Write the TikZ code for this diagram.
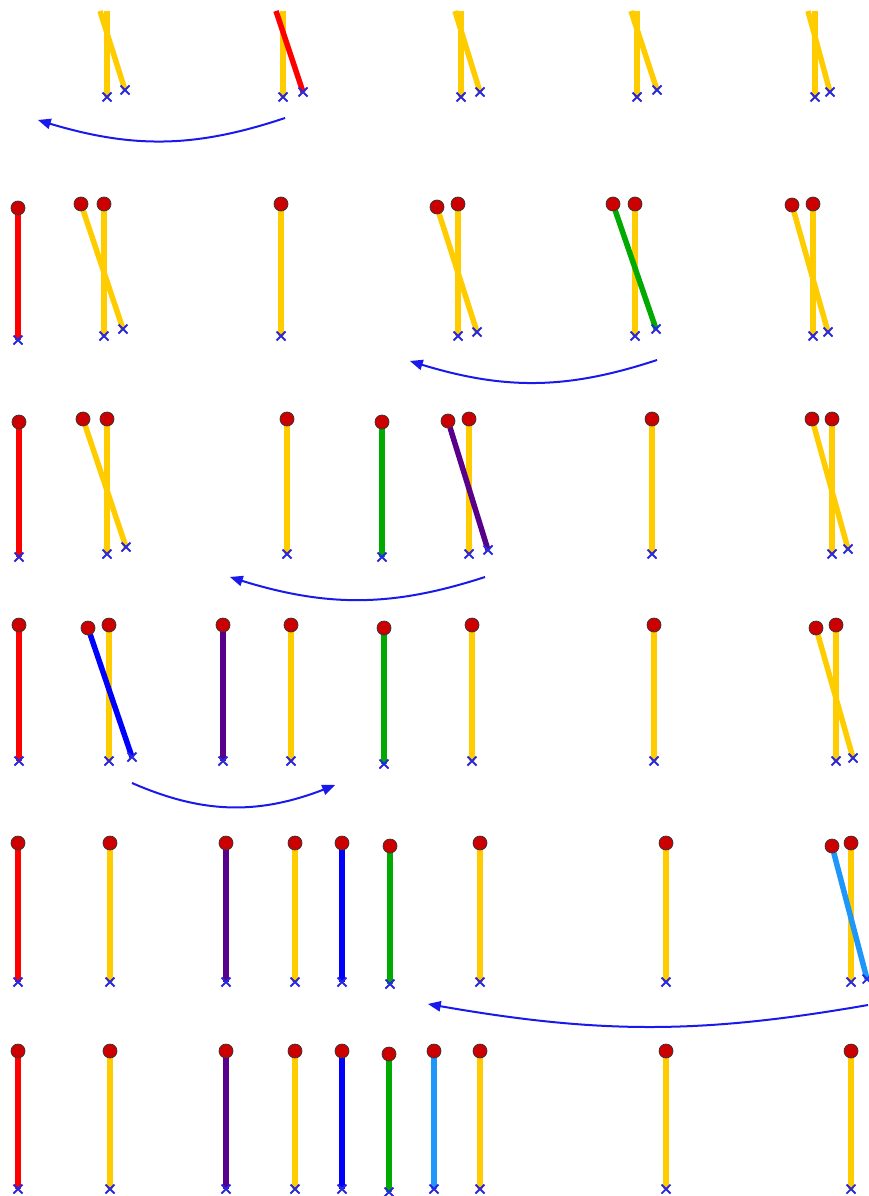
\documentclass[tikz,border=0pt]{standalone}
\usepackage[svgnames]{xcolor}
\usepackage{tikz}
\usetikzlibrary{shapes,arrows,backgrounds}
\definecolor{stYellow}{RGB}{255,204,0}
\definecolor{stRed}{RGB}{255,0,0}
\definecolor{stGreen}{RGB}{0,170,0}
\definecolor{stPurple}{RGB}{88,0,140}
\definecolor{stBlue}{RGB}{0,0,255}
\definecolor{stSky}{RGB}{30,150,250}
\definecolor{hdRed}{RGB}{204,0,0}
\definecolor{mkBlue}{RGB}{40,40,220}
\definecolor{arBlue}{RGB}{25,25,235}

\begin{document}
\begin{tikzpicture}[x=1pt, y=-1pt]%
  \tikzset{normal arrow/.style={draw,-triangle 45,line width=2pt,arBlue}}
  \tikzset{stick/.style={line width=5.5pt}}
  \tikzstyle{headdot}=[circle, fill=hdRed, draw=gray!40!black, line width=0.7pt, minimum size=14pt, inner sep=0pt, outer sep=0pt]
  \tikzstyle{footmark}=[cross out, draw=mkBlue, line width=1.8pt, minimum size=9pt, inner sep=0pt, outer sep=0pt]

  \useasboundingbox (0,0) rectangle (868,1196);

  % top row, heads cut off
  \foreach \nm/\col/\xa/\ya/\xb/\yb in {r0a/stYellow/107/11/107/97, r0b/stYellow/100/11/125/90,
      r0c/stYellow/283/11/283/97, r0d/stRed/276/11/303/92, r0e/stYellow/461/11/461/97, r0f/stYellow/455/11/480/92,
      r0g/stYellow/637/11/637/97, r0h/stYellow/631/11/657/90, r0i/stYellow/815/11/815/97, r0j/stYellow/808/11/830/92}{
    \coordinate (\nm-t) at (\xa,\ya);
    \node[footmark] (\nm-b) at (\xb,\yb) {};
    \begin{pgfonlayer}{background}
      \path[stick,draw=\col] (\nm-t) -- (\nm-b.center);
    \end{pgfonlayer}
  }

  % rows with heads
  \foreach \nm/\col/\xa/\ya/\xb/\yb in {
      r1a/stRed/18/208/18/340, r1b/stYellow/104/204/104/336, r1c/stYellow/81/204/123/329,
      r1d/stYellow/281/204/281/336, r1e/stYellow/458/204/458/336, r1f/stYellow/437/207/477/332,
      r1g/stYellow/635/204/635/336, r1h/stGreen/613/204/656/329, r1i/stYellow/813/204/813/336,
      r1j/stYellow/792/205/828/332,
      r2a/stRed/19/422/19/557, r2b/stYellow/107/419/107/554, r2c/stYellow/83/419/126/547,
      r2d/stYellow/287/419/287/554, r2e/stGreen/382/422/382/557, r2f/stYellow/469/419/469/554,
      r2g/stPurple/448/421/488/550, r2h/stYellow/652/419/652/554, r2i/stYellow/832/419/832/554,
      r2j/stYellow/812/419/848/549,
      r3a/stRed/19/625/19/761, r3b/stYellow/109/625/109/761, r3c/stBlue/88/628/132/757,
      r3d/stPurple/223/625/223/761, r3e/stYellow/291/625/291/761, r3f/stGreen/384/628/384/764,
      r3g/stYellow/472/625/472/761, r3h/stYellow/654/625/654/761, r3i/stYellow/836/625/836/761,
      r3j/stYellow/816/628/853/758,
      r4a/stRed/18/843/18/982, r4b/stYellow/110/843/110/982, r4c/stPurple/226/843/226/982,
      r4d/stYellow/295/843/295/982, r4e/stBlue/342/843/342/982, r4f/stGreen/390/846/390/984,
      r4g/stYellow/480/843/480/982, r4h/stYellow/666/843/666/982, r4i/stYellow/851/843/851/982,
      r4j/stSky/832/846/867/979,
      r5a/stRed/18/1051/18/1189, r5b/stYellow/110/1051/110/1189, r5c/stPurple/226/1051/226/1189,
      r5d/stYellow/295/1051/295/1189, r5e/stBlue/342/1051/342/1189, r5f/stGreen/389/1054/389/1192,
      r5g/stSky/434/1051/434/1189, r5h/stYellow/480/1051/480/1189, r5i/stYellow/666/1051/666/1189,
      r5j/stYellow/851/1051/851/1189}{
    \node[headdot] (\nm-t) at (\xa,\ya) {};
    \node[footmark] (\nm-b) at (\xb,\yb) {};
    \begin{pgfonlayer}{background}
      \path[stick,draw=\col] (\nm-t) -- (\nm-b.center);
    \end{pgfonlayer}
  }

  % moves
  \coordinate (a0s) at (285,118);  \coordinate (a0e) at (38,120);
  \coordinate (a1s) at (657,360);  \coordinate (a1e) at (410,361);
  \coordinate (a2s) at (485,577);  \coordinate (a2e) at (230,577);
  \coordinate (a3s) at (132,783);  \coordinate (a3e) at (335,785);
  \coordinate (a4s) at (868,1005); \coordinate (a4e) at (428,1004);

  \path[normal arrow] (a0s) to[bend left=18] (a0e);
  \path[normal arrow] (a1s) to[bend left=18] (a1e);
  \path[normal arrow] (a2s) to[bend left=18] (a2e);
  \path[normal arrow] (a3s) to[bend right=23] (a3e);
  \path[normal arrow] (a4s) to[bend left=10] (a4e);
\end{tikzpicture}
\end{document}
